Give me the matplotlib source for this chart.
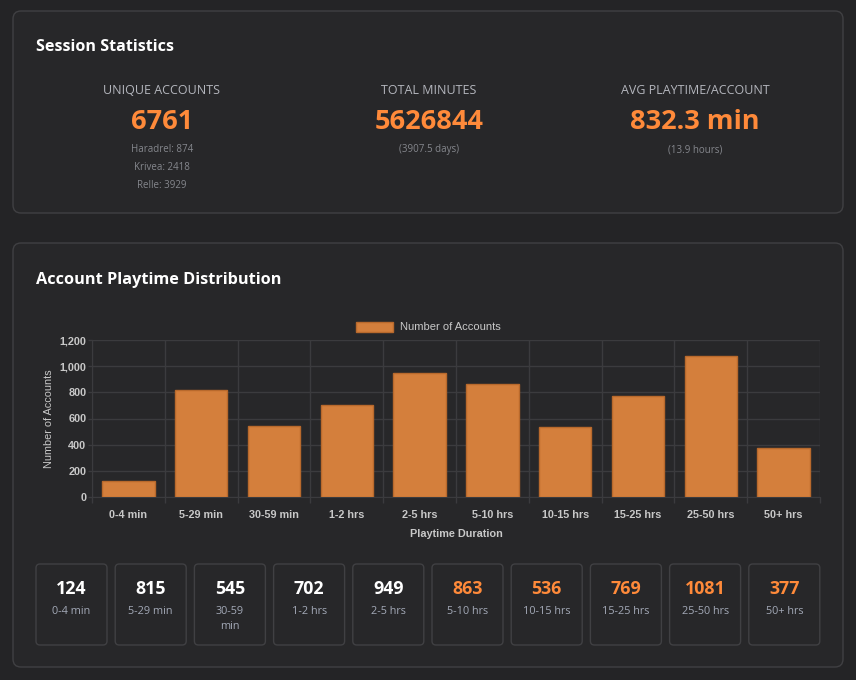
import matplotlib.pyplot as plt
from matplotlib.patches import FancyBboxPatch
from matplotlib.ticker import FuncFormatter, FixedLocator
import numpy as np

# --- data ---
stat_titles = ["UNIQUE ACCOUNTS", "TOTAL MINUTES", "AVG PLAYTIME/ACCOUNT"]
stat_values = ["6761", "5626844", "832.3 min"]
stat_notes = [["Haradrel: 874", "Krivea: 2418", "Relle: 3929"],
              ["(3907.5 days)"],
              ["(13.9 hours)"]]

buckets = ["0-4 min", "5-29 min", "30-59 min", "1-2 hrs", "2-5 hrs",
           "5-10 hrs", "10-15 hrs", "15-25 hrs", "25-50 hrs", "50+ hrs"]
box_labels = ["0-4 min", "5-29 min", "30-59\nmin", "1-2 hrs", "2-5 hrs",
              "5-10 hrs", "10-15 hrs", "15-25 hrs", "25-50 hrs", "50+ hrs"]
accounts = [124, 815, 545, 702, 949, 863, 536, 769, 1081, 377]
y_ticks = [0, 200, 400, 600, 800, 1000, 1200]

# --- colours ---
page_bg = "#242426"
card_bg = "#272729"
card_edge = "#404043"
orange = "#ff8a3a"
bar_fill = "#d47f3c"
bar_edge = "#b8692c"
grid_col = "#3b3b3e"
tick_col = "#c8c8c8"
sans = ["Open Sans", "DejaVu Sans"]
chart_font = ["Liberation Sans", "DejaVu Sans"]

W, H = 856, 680
fig = plt.figure(figsize=(W / 100, H / 100), dpi=100)
fig.patch.set_facecolor(page_bg)

# background layer in pixel coordinates
bg = fig.add_axes([0, 0, 1, 1])
bg.set_xlim(0, W)
bg.set_ylim(H, 0)
bg.axis("off")


def card(x0, y0, x1, y1, r=8, lw=1.0):
    bg.add_patch(FancyBboxPatch((x0, y0), x1 - x0, y1 - y0,
                                boxstyle=f"round,pad=0,rounding_size={r}",
                                facecolor=card_bg, edgecolor=card_edge, linewidth=lw))


# card 1: session statistics
card(13, 11, 843, 213)
bg.text(36, 47, "Session Statistics", fontsize=11.6, fontweight="bold",
        color="white", family=sans, va="center", ha="left")
col_x = [162, 429, 695]
for cx, t, v, notes in zip(col_x, stat_titles, stat_values, stat_notes):
    bg.text(cx, 90.5, t, fontsize=9, color="#b4b6bd", family=sans, ha="center", va="center")
    bg.text(cx, 122, v, fontsize=19.5, fontweight="bold", color=orange,
            family=sans, ha="center", va="center")
    for i, n in enumerate(notes):
        bg.text(cx, 149.5 + 18 * i, n, fontsize=7, color="#85878d", family=sans,
                ha="center", va="center")

# card 2: distribution
card(13, 243, 843, 667)
bg.text(36, 280, "Account Playtime Distribution", fontsize=11.7, fontweight="bold",
        color="white", family=sans, va="center", ha="left")

# bar chart
ax = fig.add_axes([92 / W, 1 - 497 / H, (820 - 92) / W, (497 - 340) / H])
ax.set_facecolor("none")
x = np.arange(len(buckets))
ax.bar(x, accounts, width=0.72, color=bar_fill, edgecolor=bar_edge, linewidth=1,
       label="Number of Accounts", zorder=3)
ax.set_xlim(-0.5, len(buckets) - 0.5)
ax.set_ylim(0, 1200)
ax.set_yticks(y_ticks)
ax.yaxis.set_major_formatter(FuncFormatter(lambda v, p: f"{int(v):,}"))
ax.set_xticks(x)
ax.set_xticklabels(buckets)
ax.xaxis.set_minor_locator(FixedLocator(np.arange(-0.5, len(buckets), 1.0)))
ax.grid(axis="y", color=grid_col, linewidth=1, zorder=0)
ax.grid(axis="x", which="minor", color=grid_col, linewidth=1, zorder=0)
ax.tick_params(axis="x", which="major", length=0, pad=9, colors=tick_col, labelsize=7.8)
ax.tick_params(axis="x", which="minor", length=4.5, width=1, color=grid_col)
ax.tick_params(axis="y", length=3, width=1, color=grid_col, colors=tick_col,
               labelsize=7.8, pad=1)
ax.tick_params(axis="y", color=grid_col)
for lab in ax.get_xticklabels() + ax.get_yticklabels():
    lab.set_fontweight("bold")
    lab.set_family(chart_font)
for s in ["top", "right"]:
    ax.spines[s].set_visible(False)
for s in ["left", "bottom"]:
    ax.spines[s].set_color(grid_col)
ax.set_xlabel("Playtime Duration", fontsize=7.8, fontweight="bold", color=tick_col,
              family=chart_font, labelpad=7)
ax.set_ylabel("Number of Accounts", fontsize=7.8, color=tick_col, family=chart_font,
              labelpad=4)
leg = ax.legend(loc="lower center", bbox_to_anchor=((428 - 92) / 728, 1.02), frameon=False,
                prop={"family": chart_font, "size": 8}, handlelength=3.4,
                handleheight=1.0, handletextpad=0.55, borderaxespad=0)
for t in leg.get_texts():
    t.set_color(tick_col)

# summary boxes
box_x0 = 36
box_w = 71
box_gap = 8.2
for i, (n, lab) in enumerate(zip(accounts, box_labels)):
    bx = box_x0 + i * (box_w + box_gap)
    bg.add_patch(FancyBboxPatch((bx, 564), box_w, 81,
                                boxstyle="round,pad=0,rounding_size=4",
                                facecolor=card_bg, edgecolor=card_edge, linewidth=1))
    col = "white" if i < 5 else orange
    bg.text(bx + box_w / 2, 589.5, str(n), fontsize=12.8, fontweight="bold", color=col,
            family=sans, ha="center", va="center")
    bg.text(bx + box_w / 2, 606, lab, fontsize=7.8, color="#a3a9b7", family=sans,
            ha="center", va="top", linespacing=1.55)

fig.savefig("out.png", dpi=100, facecolor=page_bg)
